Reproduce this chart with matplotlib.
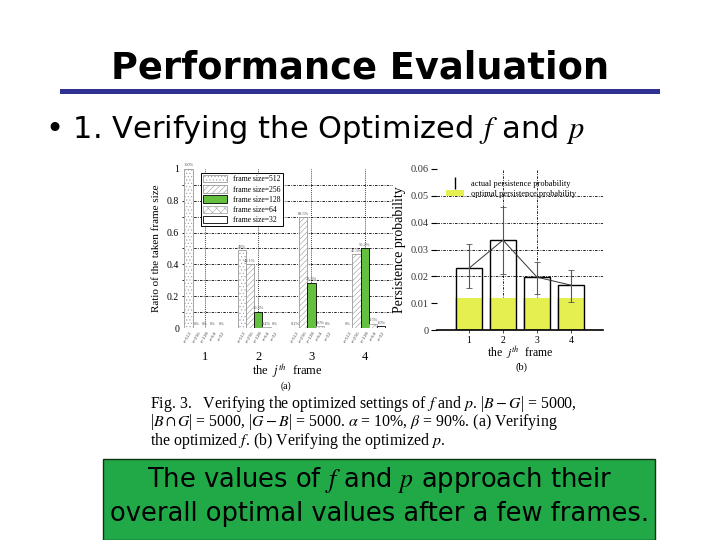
import matplotlib.pyplot as plt
import matplotlib
import numpy as np
from matplotlib.patches import Rectangle, Patch
from matplotlib.lines import Line2D

matplotlib.rcParams['font.family'] = 'DejaVu Sans'
matplotlib.rcParams['mathtext.fontset'] = 'stix'
matplotlib.rcParams['hatch.linewidth'] = 0.4

W, H = 720, 540

# ── data: panel (a) ratio of the taken frame size ──
frames = [1, 2, 3, 4]
frame_sizes = ['512', '256', '128', '64', '32']
ratio_512 = [1.00, 0.49, 0.001, 0.0]
ratio_256 = [0.0, 0.40, 0.695, 0.463]
ratio_128 = [0.0, 0.103, 0.283, 0.502]
ratio_64 = [0.0, 0.004, 0.010, 0.025]
ratio_32 = [0.0, 0.0, 0.0, 0.010]
label_512 = ['100%', '49%', '0.1%', '0%']
label_256 = ['0%', '40.1%', '69.5%', '46.3%']
label_128 = ['0%', '10.3%', '28.3%', '50.2%']
label_64 = ['0%', '0.4%', '1.0%', '2.5%']
label_32 = ['0%', '0%', '0%', '1.0%']

# ── data: panel (b) persistence probability ──
frames_b = [1, 2, 3, 4]
optimal_p = [0.012, 0.012, 0.012, 0.012]
actual_p = [0.023, 0.0335, 0.0197, 0.0167]
err_low = [0.0155, 0.021, 0.0135, 0.0105]
err_high = [0.032, 0.046, 0.0255, 0.0225]


def fx(px):
    return px / W


def fy(py):
    return 1 - py / H


fig = plt.figure(figsize=(7.2, 5.4), dpi=100)
fig.patch.set_facecolor('white')

# ── slide title and bullet ──
fig.text(fx(360), fy(68), "Performance Evaluation", ha='center', va='center',
         fontsize=26.5, fontweight='bold', color='black')
fig.add_artist(Rectangle((fx(60), fy(94)), fx(600), 5 / H, transform=fig.transFigure,
                         facecolor='#2e3192', edgecolor='none'))
fig.text(fx(45), fy(130), "\u2022 1. Verifying the Optimized $f$ and $p$", ha='left',
         va='center', fontsize=22, color='black')

# ── panel (a) ──
axa = fig.add_axes([fx(182), fy(328), fx(393 - 182), (328 - 169) / H])
bw = 0.155
series = [
    (ratio_512, label_512, dict(facecolor='white', edgecolor='#999999', hatch='.....')),
    (ratio_256, label_256, dict(facecolor='white', edgecolor='#999999', hatch='//////')),
    (ratio_128, label_128, dict(facecolor='#66c03f', edgecolor='black')),
    (ratio_64, label_64, dict(facecolor='white', edgecolor='#aaaaaa', hatch='xxxx')),
    (ratio_32, label_32, dict(facecolor='white', edgecolor='black')),
]
tick_pos, tick_lab = [], []
handles = []
for i, (vals, labs, style) in enumerate(series):
    pos = np.array(frames) + (i - 2) * bw
    b = axa.bar(pos, vals, width=bw, linewidth=0.6, zorder=3, **style,
                label='frame size=' + frame_sizes[i])
    handles.append(b)
    for p, v, l in zip(pos, vals, labs):
        axa.text(p, v + 0.01, l, ha='center', va='bottom', fontsize=3.2,
                 family='Liberation Serif', color='#555555', zorder=4)
    tick_pos += list(pos)
    tick_lab += ['f=' + frame_sizes[i]] * len(pos)

axa.set_xlim(0.57, 4.53)
axa.set_ylim(0, 1.0)
axa.set_yticks([0, 0.2, 0.4, 0.6, 0.8, 1.0])
axa.set_yticklabels(['0', '0.2', '0.4', '0.6', '0.8', '1'], family='Liberation Serif',
                    fontsize=7)
axa.set_xticks(tick_pos)
axa.set_xticklabels(tick_lab, rotation=60, fontsize=3.8, family='Liberation Serif',
                    color='#444444')
axa.tick_params(length=0, pad=2)
for y in np.arange(0.1, 1.0, 0.1):
    axa.axhline(y, color='black', lw=0.6, ls=(0, (3, 1.5, 1, 1.5)), zorder=1)
for x in frames:
    axa.axvline(x, color='black', lw=0.6, ls=(0, (1, 1.5)), zorder=1)
for s in axa.spines.values():
    s.set_visible(False)
for x in frames:
    axa.text(x, -0.18, str(x), ha='center', va='center', fontsize=9,
             family='Liberation Serif', transform=axa.transData)
axa.text(0.5, -0.27, "the  $j^{th}$  frame", ha='center', va='center', fontsize=9,
         family='Liberation Serif', transform=axa.transAxes)
axa.set_ylabel("Ratio of the taken frame size", family='Liberation Serif', fontsize=8,
               labelpad=4)
fig.text(fx(286), fy(386), "(a)", ha='center', va='center', fontsize=7,
         family='Liberation Serif')
leg = axa.legend(handles=handles, loc='upper left', bbox_to_anchor=(0.07, 1.0),
                 prop={'family': 'Liberation Serif', 'size': 5.5}, frameon=True,
                 fancybox=False, edgecolor='black', framealpha=1, borderpad=0.3,
                 labelspacing=0.25, handlelength=3.2, handleheight=1.1)
leg.get_frame().set_linewidth(0.7)
leg.set_zorder(5)

# ── panel (b) ──
axb = fig.add_axes([fx(437), fy(330), fx(603 - 437), (330 - 169) / H])
axb.bar(frames_b, optimal_p, width=0.8, color='#e5ef4f', zorder=2,
        label='optimal persistence probability')
axb.bar(frames_b, actual_p, width=0.78, facecolor='none', edgecolor='black', lw=1.0,
        zorder=3)
axb.plot(frames_b, actual_p, color='#333333', lw=0.7, zorder=4)
yerr = [np.array(actual_p) - np.array(err_low), np.array(err_high) - np.array(actual_p)]
axb.errorbar(frames_b, actual_p, yerr=yerr, fmt='none', ecolor='#555555', elinewidth=0.8,
             capsize=2, capthick=0.6, zorder=4)
axb.set_xlim(0.06, 4.94)
axb.set_ylim(0, 0.06)
axb.set_xticks(frames_b)
axb.set_xticklabels([str(f) for f in frames_b], family='Liberation Serif', fontsize=7)
axb.set_yticks([0, 0.01, 0.02, 0.03, 0.04, 0.05, 0.06])
axb.set_yticklabels(['0', '0.01', '0.02', '0.03', '0.04', '0.05', '0.06'],
                    family='Liberation Serif', fontsize=7.5, color='#333333')
axb.tick_params(axis='y', length=4, width=0.8, pad=2)
axb.tick_params(axis='x', length=2, width=0.5, pad=2)
for y in [0.02, 0.03, 0.04, 0.05]:
    axb.axhline(y, color='black', lw=0.6, ls=(0, (3, 1.5, 1, 1.5)), zorder=1)
for x in [2, 3]:
    axb.axvline(x, color='black', lw=0.6, ls=(0, (3, 1.5, 1, 1.5)), zorder=1)
for s in ['top', 'right', 'left']:
    axb.spines[s].set_visible(False)
axb.spines['bottom'].set_linewidth(1.2)
axb.set_ylabel("Persistence probability", family='Liberation Serif', fontsize=10,
               labelpad=3)
axb.text(0.5, -0.145, "the  $j^{th}$  frame", ha='center', va='center', fontsize=8.5,
         family='Liberation Serif', transform=axb.transAxes)
fig.text(fx(521), fy(367), "(b)", ha='center', va='center', fontsize=7.5,
         family='Liberation Serif')
hb = [Line2D([], [], color='black', lw=1.0, marker='|', ls='none', markersize=8),
      Patch(facecolor='#e5ef4f', edgecolor='none')]
axb.legend(hb, ['actual persistence probability', 'optimal persistence probability'],
           loc='upper left', bbox_to_anchor=(0.02, 0.97), frameon=False,
           prop={'family': 'Liberation Serif', 'size': 6}, labelspacing=0.3,
           handlelength=2.2, borderpad=0.2)

# ── caption ──
cap = [
    r"Fig. 3.   Verifying the optimized settings of $f$ and $p$. |$B - G$| = 5000,",
    r"|$B \cap G$| = 5000, |$G - B$| = 5000. $\alpha$ = 10%, $\beta$ = 90%. (a) Verifying",
    r"the optimized $f$. (b) Verifying the optimized $p$.",
]
fig.text(fx(150), fy(394), "\n".join(cap), ha='left', va='top', fontsize=11.4,
         family='Liberation Serif', linespacing=0.88)

# ── green conclusion box ──
fig.add_artist(Rectangle((fx(103), 0), fx(655 - 103), fy(459), transform=fig.transFigure,
                         facecolor='#21a948', edgecolor='#113311', lw=1.0))
fig.text(fx(380), fy(480), "The values of $f$ and $p$ approach their", ha='center',
         va='center', fontsize=18.5, color='black')
fig.text(fx(380), fy(514), "overall optimal values after a few frames.", ha='center',
         va='center', fontsize=18.5, color='black')

plt.savefig("out.png", dpi=100)
plt.close()
print("Saved out.png")
